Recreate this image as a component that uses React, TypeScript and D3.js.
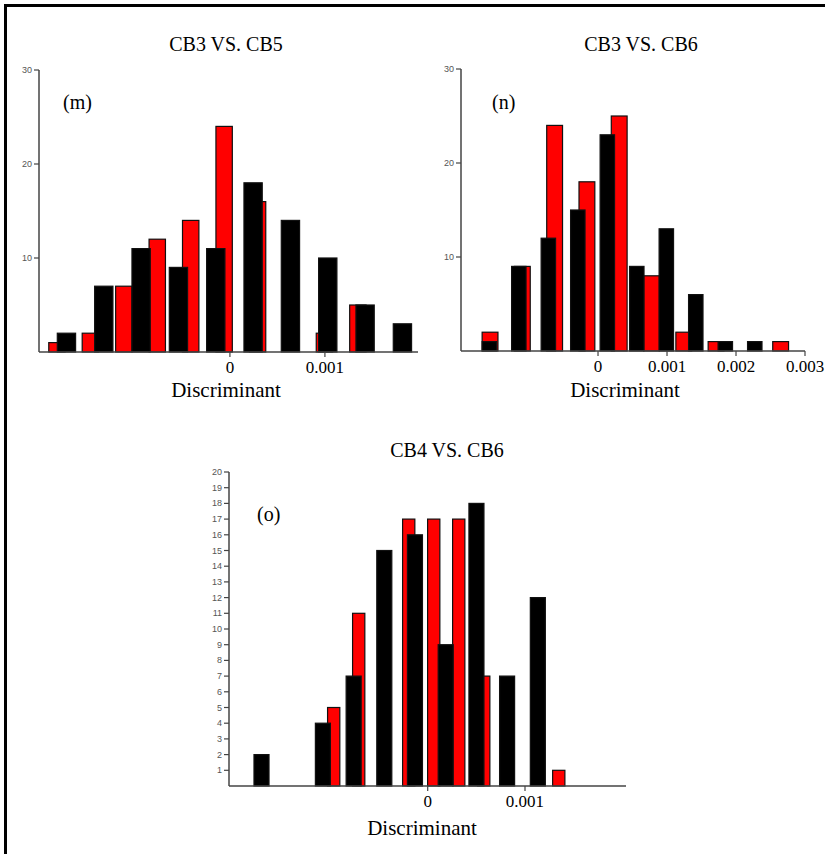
import React from "react";
import * as d3 from "d3";

// bin centres (discriminant) and counts
const mRedBins = [-0.001821, -0.001469, -0.001117, -0.000765, -0.000413, -0.000061, 0.000291, 0.000643, 0.000995, 0.001347];
const mRedCounts = [1, 2, 7, 12, 14, 24, 16, 0, 2, 5];
const mBlackBins = [-0.001721, -0.001328, -0.000935, -0.000542, -0.000149, 0.000244, 0.000637, 0.00103, 0.001423, 0.001816];
const mBlackCounts = [2, 7, 11, 9, 11, 18, 14, 10, 5, 3];

const nRedBins = [-0.001565, -0.001097, -0.000629, -0.000161, 0.000307, 0.000775, 0.001243, 0.001711, 0.002179, 0.002647];
const nRedCounts = [2, 9, 24, 18, 25, 8, 2, 1, 0, 1];
const nBlackBins = [-0.001575, -0.001148, -0.00072, -0.000293, 0.000135, 0.000562, 0.00099, 0.001417, 0.001845, 0.002272];
const nBlackCounts = [1, 9, 12, 15, 23, 9, 13, 6, 1, 1];

const oRedBins = [-0.000966, -0.000709, -0.000452, -0.000195, 0.000062, 0.000319, 0.000576, 0.000833, 0.00109, 0.001347];
const oRedCounts = [5, 11, 0, 17, 17, 17, 7, 0, 0, 1];
const oBlackBins = [-0.001708, -0.001393, -0.001077, -0.000761, -0.000446, -0.000131, 0.000185, 0.000501, 0.000816, 0.001132];
const oBlackCounts = [2, 0, 4, 7, 15, 16, 9, 18, 7, 12];

const mXTicks = [0, 0.001];
const nXTicks = [0, 0.001, 0.002, 0.003];
const oXTicks = [0, 0.001];
const wideYTicks = [10, 20, 30];
const fineYTicks = d3.range(1, 21);

const serif = "'Liberation Serif', 'Times New Roman', serif";
const sans = "'Liberation Sans', Arial, sans-serif";

const panels = [
    {
        title: "CB3 VS. CB5", tag: "(m)",
        red: [mRedBins, mRedCounts], black: [mBlackBins, mBlackCounts],
        xDomain: [-0.00201, 0.00198], xRange: [39, 418],
        yMax: 30, yRange: [352, 70], xTicks: mXTicks, yTicks: wideYTicks,
        titleX: 226, titleY: 51, tagX: 63, tagY: 109, labelX: 226, labelY: 397,
    },
    {
        title: "CB3 VS. CB6", tag: "(n)",
        red: [nRedBins, nRedCounts], black: [nBlackBins, nBlackCounts],
        xDomain: [-0.001986, 0.003], xRange: [461, 805],
        yMax: 30, yRange: [351, 69], xTicks: nXTicks, yTicks: wideYTicks,
        titleX: 641, titleY: 51, tagX: 492, tagY: 109, labelX: 625, labelY: 397,
    },
    {
        title: "CB4 VS. CB6", tag: "(o)",
        red: [oRedBins, oRedCounts], black: [oBlackBins, oBlackCounts],
        xDomain: [-0.002042, 0.002038], xRange: [229, 626],
        yMax: 20, yRange: [786, 472], xTicks: oXTicks, yTicks: fineYTicks,
        titleX: 447, titleY: 457, tagX: 257, tagY: 521, labelX: 422, labelY: 835,
    },
];

const Panel = ({p}: {p: any}) => {
    const x = d3.scaleLinear().domain(p.xDomain).range(p.xRange);
    const y = d3.scaleLinear().domain([0, p.yMax]).range(p.yRange);
    const base = y(0);

    const bars = (bins: number[], counts: number[], fill: string) => {
        const w = (x(bins[1]) - x(bins[0])) * 0.49;
        return bins.map((b, i) => counts[i] > 0 ? (
            <rect key={fill + i} x={x(b) - w / 2} y={y(counts[i])} width={w} height={base - y(counts[i])}
                  fill={fill} stroke={"#111"} strokeWidth={1.2}/>
        ) : null);
    };

    return (
        <g>
            <text x={p.titleX} y={p.titleY} textAnchor="middle" fontFamily={serif} fontSize={20}>{p.title}</text>
            <text x={p.tagX} y={p.tagY} fontFamily={serif} fontSize={20}>{p.tag}</text>

            {bars(p.red[0], p.red[1], "#ff0000")}
            {bars(p.black[0], p.black[1], "#000000")}

            <line x1={p.xRange[0]} x2={p.xRange[0]} y1={base} y2={y(p.yMax)} stroke={"#444"} strokeWidth={1.5}/>
            <line x1={p.xRange[0]} x2={p.xRange[1]} y1={base} y2={base} stroke={"#444"} strokeWidth={1.5}/>

            {p.yTicks.map((t: number) => (
                <g key={"y" + t}>
                    <line x1={p.xRange[0] - 5} x2={p.xRange[0]} y1={y(t)} y2={y(t)} stroke={"#444"} strokeWidth={1.2}/>
                    <text x={p.xRange[0] - 7} y={y(t) + 3} textAnchor="end" fontFamily={sans} fontSize={9}
                          fill={"#555"}>{t}</text>
                </g>
            ))}

            {p.xTicks.map((t: number) => (
                <g key={"x" + t}>
                    <line x1={x(t)} x2={x(t)} y1={base} y2={base + 5} stroke={"#444"} strokeWidth={1.2}/>
                    <text x={x(t)} y={base + 21} textAnchor="middle" fontFamily={serif} fontSize={17}>{t === 0 ? "0" : d3.format(".3f")(t)}</text>
                </g>
            ))}

            <text x={p.labelX} y={p.labelY} textAnchor="middle" fontFamily={serif} fontSize={21}>Discriminant</text>
        </g>
    );
};

export default function App() {
    return (
        <svg width={825} height={854} style={{position: "absolute", left: 0, top: 0, background: "#fff"}}>
            <rect x={5.5} y={5.5} width={900} height={900} fill="none" stroke="#000" strokeWidth={3}/>
            {panels.map(p => <Panel key={p.tag} p={p}/>)}
        </svg>
    );
}
